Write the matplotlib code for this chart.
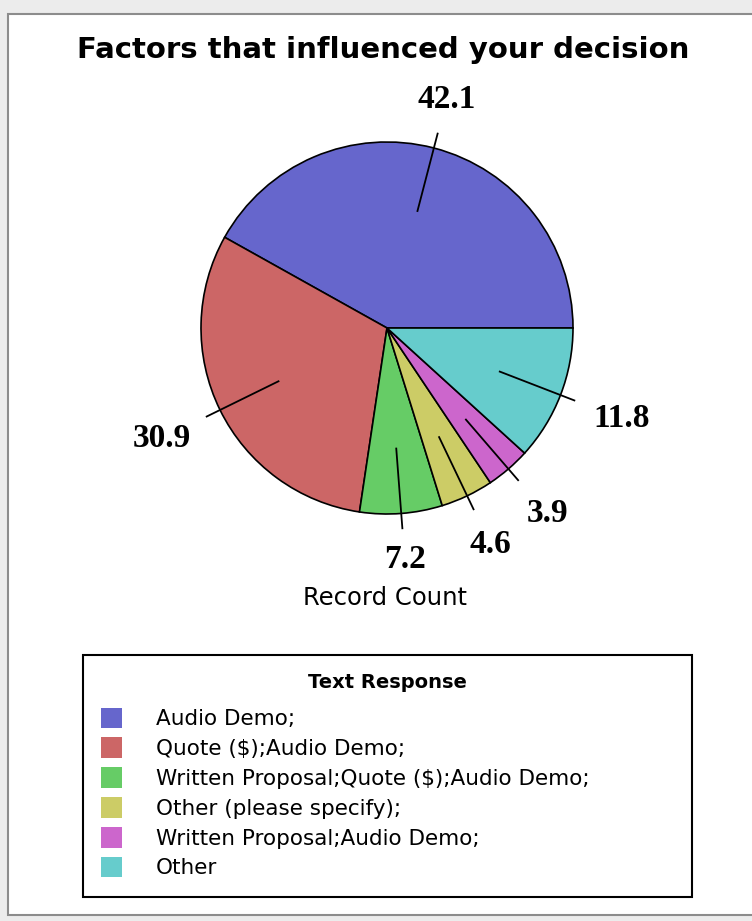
import matplotlib
matplotlib.use("Agg")
import matplotlib.pyplot as plt
import matplotlib.patches as mpatches
import numpy as np

# data
responses = ["Audio Demo;", "Quote ($);Audio Demo;", "Written Proposal;Quote ($);Audio Demo;",
             "Other (please specify);", "Written Proposal;Audio Demo;", "Other"]
percent = [42.1, 30.9, 7.2, 4.6, 3.9, 11.8]
colors = ["#6666cc", "#cc6666", "#66cc66", "#cccc66", "#cc66cc", "#66cccc"]

W, H = 752, 921
fig = plt.figure(figsize=(W / 100, H / 100), dpi=100, facecolor="#ececec")

# white panel with grey border
panel = mpatches.Rectangle((8 / W, 6 / H), 1.0, (915 - 14) / H, transform=fig.transFigure,
                           facecolor="white", edgecolor="#8c8c8c", linewidth=1.5, zorder=-5)
fig.patches.append(panel)

fig.text(383 / W, 1 - 50 / H, "Factors that influenced your decision", ha="center", va="center",
         fontsize=21, fontweight="bold", family="DejaVu Sans")

# pie axes: centre (387, 328) px, radius 186 px
cx, cy, r = 387, 328, 186
side = 500
ax = fig.add_axes([(cx - side / 2) / W, (H - cy - side / 2) / H, side / W, side / H])

wedges, _ = ax.pie(percent, colors=colors, startangle=0, counterclock=True, radius=1,
                   wedgeprops=dict(edgecolor="black", linewidth=1.2))
lim = side / (2 * r)
ax.set_xlim(-lim, lim)
ax.set_ylim(-lim, lim)
ax.axis("off")

for w, v in zip(wedges, percent):
    mid = np.deg2rad((w.theta1 + w.theta2) / 2)
    c, s = np.cos(mid), np.sin(mid)
    ax.plot([0.65 * c, 1.08 * c], [0.65 * s, 1.08 * s], color="black", lw=1.3)
    d = 1.24 + 0.12 * abs(c)
    ax.text(d * c, d * s, f"{v}", ha="center", va="center", fontsize=24,
            fontweight="bold", family="Liberation Serif")

fig.text(385 / W, 1 - 598 / H, "Record Count", ha="center", va="center", fontsize=17.5,
         family="DejaVu Sans")

handles = [mpatches.Patch(facecolor=w.get_facecolor(), edgecolor="none") for w in wedges]
leg = fig.legend(handles, responses, loc="upper left", mode="expand",
                 bbox_to_anchor=(83 / W, 26 / H, (692 - 83) / W, (895 - 655) / H),
                 bbox_transform=fig.transFigure, borderaxespad=0, fontsize=15.5,
                 title="Text Response", title_fontproperties={"weight": "bold", "size": 14},
                 handlelength=0.97, handleheight=1.1, handletextpad=1.55,
                 labelspacing=0.38, borderpad=0.85, fancybox=False, framealpha=1)
leg.get_frame().set_edgecolor("black")
leg.get_frame().set_linewidth(1.5)
leg._legend_box.sep = 11

fig.savefig("out.png", dpi=100, facecolor=fig.get_facecolor())
